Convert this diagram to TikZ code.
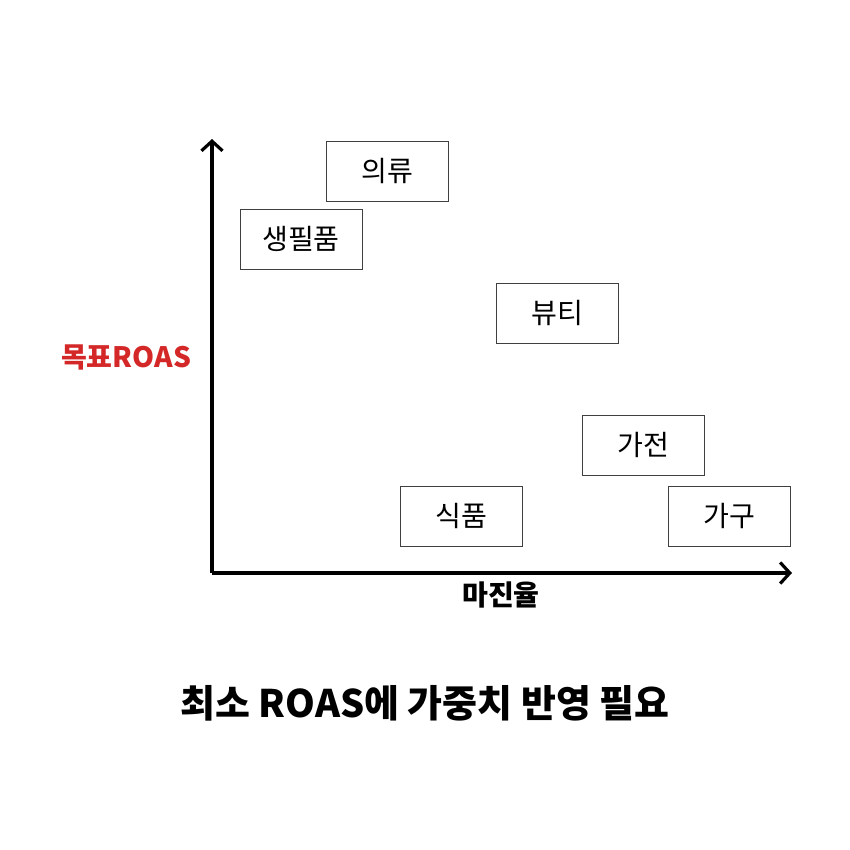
\documentclass[tikz,border=0pt]{standalone}
\usepackage{fontspec}
\setmainfont{Noto Sans CJK KR}
\usetikzlibrary{arrows.meta,positioning}
\definecolor{roasred}{RGB}{212,40,40}
\tikzset{catbox/.style={draw=black!75, line width=0.55pt, minimum width=122*0.02cm, minimum height=60*0.02cm, inner sep=0pt, font=\fontsize{16}{18}\selectfont}}
\tikzset{axis/.style={draw, line width=1.8pt, -{Straight Barb[length=5.5pt, width=12pt, line width=1.8pt]}}}
\tikzset{axlabel/.style={font=\fontsize{16}{18}\selectfont\bfseries}}

\begin{document}
\begin{tikzpicture}[x=0.02cm, y=-0.02cm]
    \useasboundingbox (0,0) rectangle (850,850);
    \coordinate (O) at (212,573);
    \coordinate (ytop) at (212,139);
    \coordinate (xend) at (792,573);
    \draw[axis] (O) -- (ytop);
    \draw[axis] (O) -- (xend);

    \node[catbox] (cloth) at (387,171) {의류};
    \node[catbox] (daily) at (301,239) {생필품};
    \node[catbox] (beauty) at (557,313) {뷰티};
    \node[catbox] (appliance) at (643,445) {가전};
    \node[catbox] (food) at (461,516) {식품};
    \node[catbox] (furniture) at (729,516) {가구};

    \node[axlabel, text=roasred] (ylab) at (126,357) {목표ROAS};
    \node[axlabel] (xlab) at (501,595) {마진율};

    % 하단 결론
    \node[font=\fontsize{21.6}{24}\selectfont\bfseries] (title) at (425,703) {최소 ROAS에 가중치 반영 필요};
\end{tikzpicture}
\end{document}
